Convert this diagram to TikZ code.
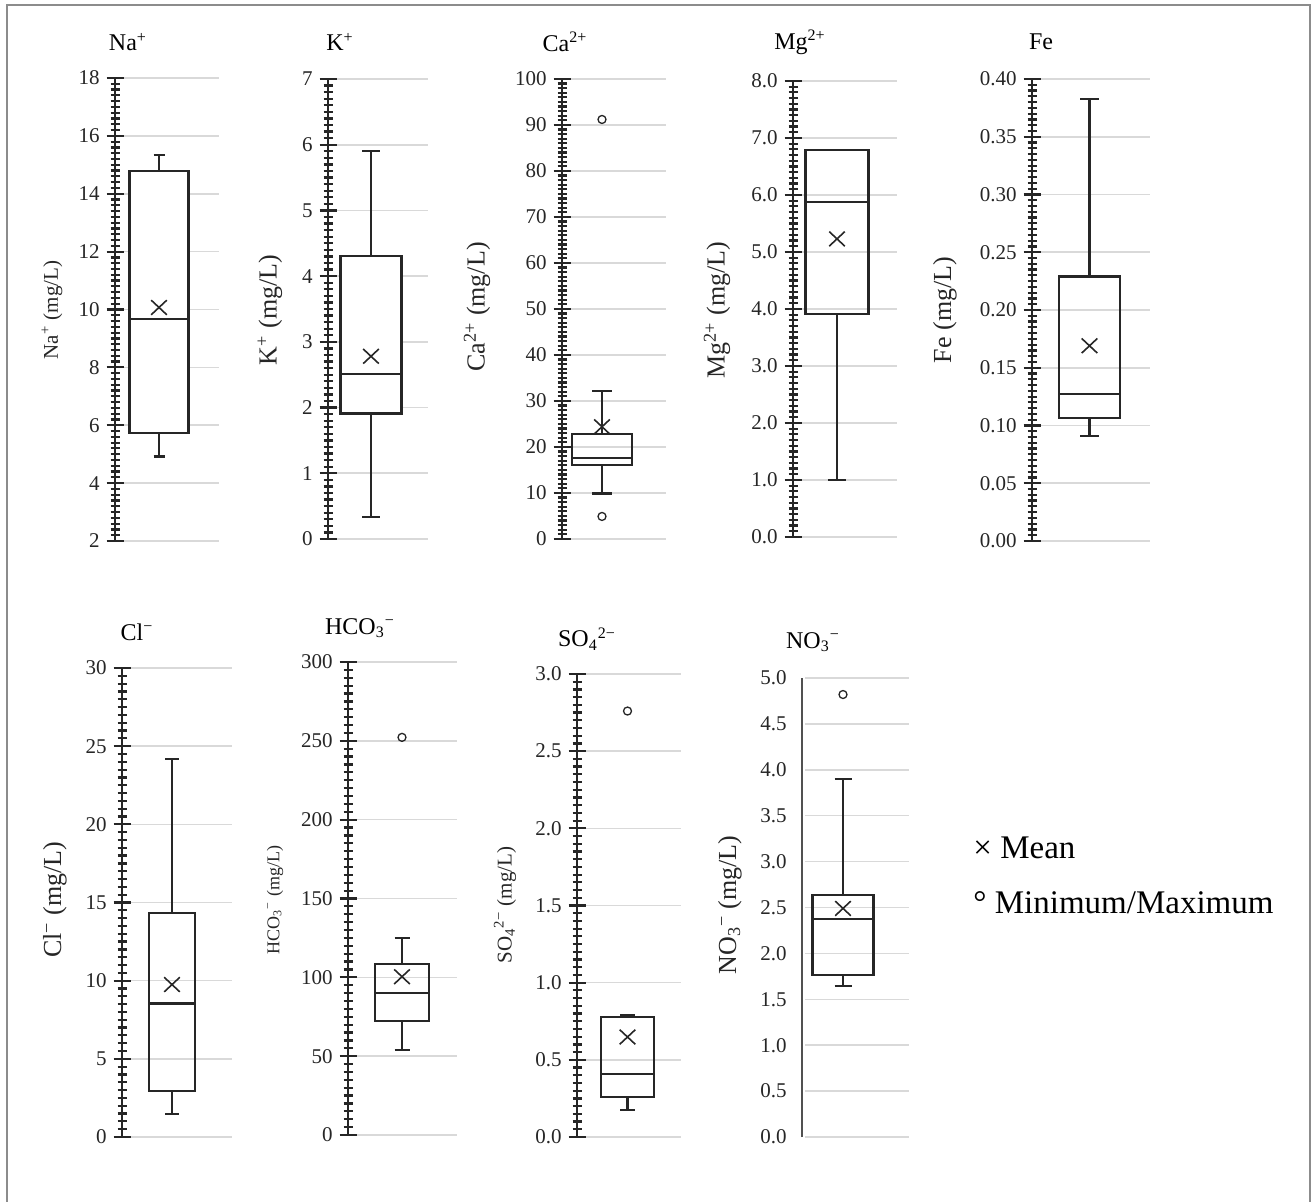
\documentclass[tikz,border=0pt]{standalone}
\usepackage{fontspec}
\setmainfont{Liberation Serif}
\usetikzlibrary{shapes.misc}

\definecolor{gridgray}{HTML}{D9D9D9}
\definecolor{framegray}{HTML}{8C8C8C}
\definecolor{inkgray}{HTML}{262626}

% one panel: name, axis x, pixel y of lowest and highest value, lowest and highest value
\newcommand{\setaxis}[6]{\def\pname{#1}\def\axx{#2}\def\ybot{#3}\def\ytop{#4}\def\vlow{#5}%
  \pgfmathsetmacro\ppu{(#3-#4)/(#6-#5)}}
\newcommand{\yv}[1]{(\ybot-((#1)-\vlow)*\ppu)}

% ticked axis: minor intervals, tick labels, end of the grid lines
\newcommand{\tickaxis}[3]{%
  \pgfmathsetmacro\tgap{(\ybot-\ytop)/#1}
  \foreach \lab [count=\k from 0] in {#2} {
    \draw[gridline] ({\axx+7},{\ybot-\k*10*\tgap}) -- (#3,{\ybot-\k*10*\tgap});
    \draw[axisline] ({\axx-8.5},{\ybot-\k*10*\tgap}) -- ({\axx+8.5},{\ybot-\k*10*\tgap});
    \node[ticklab] (\pname-\k) at ({\axx-15},{\ybot-\k*10*\tgap}) {\lab};
  }
  \foreach \i in {0,...,#1}
    \draw[axisline] ({\axx-4.5},{\ybot-\i*\tgap}) -- ({\axx+4.5},{\ybot-\i*\tgap});
  \draw[axisline] (\axx,\ybot) -- (\axx,\ytop);
}

% box: centre x, half width, half cap, min, q1, median, q3, max
\newcommand{\ionbox}[8]{%
  \draw[boxline] (#1,{\yv{#7}}) -- (#1,{\yv{#8}});
  \draw[boxline] (#1,{\yv{#5}}) -- (#1,{\yv{#4}});
  \draw[boxline] ({#1-#3},{\yv{#8}}) -- ({#1+#3},{\yv{#8}});
  \draw[boxline] ({#1-#3},{\yv{#4}}) -- ({#1+#3},{\yv{#4}});
  \draw[boxline, fill=\boxfill] ({#1-#2},{\yv{#5}}) rectangle ({#1+#2},{\yv{#7}});
  \draw[boxline] ({#1-#2},{\yv{#6}}) -- ({#1+#2},{\yv{#6}});
}

\begin{document}
\begin{tikzpicture}[x=0.5pt, y=-0.5pt]
\tikzset{
  gridline/.style={gridgray, line width=0.8pt},
  axisline/.style={inkgray, line width=1.1pt},
  boxline/.style={inkgray, line width=1.05pt},
  ticklab/.style={anchor=east, inner sep=0pt, text=inkgray, font=\fontsize{10.5}{12}\selectfont},
  title/.style={inner sep=0pt, font=\fontsize{12}{14}\selectfont},
  ylab/.style={rotate=90, inner sep=0pt, text=inkgray, font=\fontsize{13}{15}\selectfont},
  smallylab/.style={ylab, font=\fontsize{10}{12}\selectfont},
  meanmark/.style={cross out, draw=inkgray, line width=0.8pt, minimum width=7pt, minimum height=6.5pt, inner sep=0pt},
  outlier/.style={circle, draw=inkgray, line width=0.65pt, minimum size=4pt, inner sep=0pt},
  legend/.style={anchor=west, inner sep=0pt, font=\fontsize{16.5}{19}\selectfont},
}
\useasboundingbox (0,0) rectangle (1312,1202);
\draw[framegray, line width=0.8pt] (7,1210) -- (7,5) -- (1310,5) -- (1310,1210);

% Na+
\def\boxfill{white}
\setaxis{Na}{115}{541}{78}{2}{18}
\tickaxis{80}{2,4,6,8,10,12,14,16,18}{219}
\ionbox{159}{29.5}{5.5}{4.92}{5.72}{9.68}{14.8}{15.34}
\node[meanmark] (Na-mean) at (159,{\yv{10.07}}) {};
\node[title] (tNa) at (128,42) {Na\textsuperscript{+}};
\node[smallylab, font=\fontsize{10.5}{12}\selectfont] (yNa) at (52,310) {Na\textsuperscript{+} (mg/L)};

% K+
\setaxis{K}{328}{539}{79}{0}{7}
\tickaxis{70}{0,1,2,3,4,5,6,7}{428}
\ionbox{371}{30.5}{9}{0.34}{1.91}{2.51}{4.31}{5.9}
\node[meanmark] (K-mean) at (371,{\yv{2.78}}) {};
\node[title] (tK) at (340,42) {K\textsuperscript{+}};
\node[ylab] (yK) at (270,310) {K\textsuperscript{+} (mg/L)};

% Ca2+
\def\boxfill{none}
\setaxis{Ca}{562}{539}{79}{0}{100}
\tickaxis{100}{0,10,20,30,40,50,60,70,80,90,100}{666}
\ionbox{602}{30}{10}{9.9}{16.1}{17.6}{22.8}{32.2}
\node[meanmark] (Ca-mean) at (602,{\yv{24.4}}) {};
\node[outlier] (Ca-max) at (602,{\yv{91.2}}) {};
\node[outlier] (Ca-min) at (602,{\yv{4.9}}) {};
\node[title] (tCa) at (565,42) {Ca\textsuperscript{2+}};
\node[ylab] (yCa) at (477,307) {Ca\textsuperscript{2+} (mg/L)};

% Mg2+
\setaxis{Mg}{793}{537}{81}{0}{8}
\tickaxis{80}{0.0,1.0,2.0,3.0,4.0,5.0,6.0,7.0,8.0}{897}
\ionbox{837}{31.5}{9}{1.0}{3.91}{5.87}{6.79}{6.79}
\node[meanmark] (Mg-mean) at (837,{\yv{5.23}}) {};
\node[title] (tMg) at (800,42) {Mg\textsuperscript{2+}};
\node[ylab] (yMg) at (717,310) {Mg\textsuperscript{2+} (mg/L)};

% Fe
\setaxis{Fe}{1032}{541}{79}{0}{0.4}
\tickaxis{80}{0.00,0.05,0.10,0.15,0.20,0.25,0.30,0.35,0.40}{1150}
\ionbox{1089.5}{30.5}{9.5}{0.091}{0.1065}{0.127}{0.229}{0.383}
\node[meanmark] (Fe-mean) at (1089.5,{\yv{0.169}}) {};
\node[title] (tFe) at (1041,42) {Fe};
\node[ylab] (yFe) at (945,310) {Fe (mg/L)};

% Cl-
\setaxis{Cl}{122}{1137}{668}{0}{30}
\tickaxis{60}{0,5,10,15,20,25,30}{232}
\ionbox{172}{23}{7}{1.5}{2.95}{8.54}{14.3}{24.16}
\node[meanmark] (Cl-mean) at (172,{\yv{9.75}}) {};
\node[title] (tCl) at (137,632) {Cl\textsuperscript{−}};
\node[ylab] (yCl) at (55,900) {Cl\textsuperscript{−} (mg/L)};

% HCO3-
\setaxis{HCO}{348}{1135}{662}{0}{300}
\tickaxis{60}{0,50,100,150,200,250,300}{457}
\ionbox{402}{27}{7.5}{53.9}{72.3}{90.2}{108.2}{125.1}
\node[meanmark] (HCO-mean) at (402,{\yv{100.4}}) {};
\node[outlier] (HCO-max) at (402,{\yv{252.2}}) {};
\node[title] (tHCO) at (360,628) {HCO\textsubscript{3}\textsuperscript{−}};
\node[smallylab, font=\fontsize{9}{11}\selectfont] (yHCO) at (275,900) {HCO\textsubscript{3}\textsuperscript{−} (mg/L)};

% SO4 2-
\setaxis{SO}{577}{1137}{674}{0}{3}
\tickaxis{60}{0.0,0.5,1.0,1.5,2.0,2.5,3.0}{681}
\ionbox{627.5}{26.5}{7.5}{0.173}{0.259}{0.411}{0.778}{0.789}
\node[meanmark] (SO-mean) at (627.5,{\yv{0.648}}) {};
\node[outlier] (SO-max) at (627.5,{\yv{2.76}}) {};
\node[title] (tSO) at (587,639) {SO\textsubscript{4}\textsuperscript{2−}};
\node[smallylab, font=\fontsize{10.5}{12}\selectfont] (ySO) at (505,905) {SO\textsubscript{4}\textsuperscript{2−} (mg/L)};

% NO3- (plain axis, no ticks)
\setaxis{NO}{802}{1137}{678}{0}{5}
\foreach \lab [count=\k from 0] in {0.0,0.5,1.0,1.5,2.0,2.5,3.0,3.5,4.0,4.5,5.0} {
  \draw[gridline] ({\axx+3},{\yv{\k*0.5}}) -- (909,{\yv{\k*0.5}});
  \node[ticklab] (NO-\k) at ({\axx-15},{\yv{\k*0.5}}) {\lab};
}
\draw[inkgray!80, line width=1.2pt] (\axx,\ybot) -- (\axx,\ytop);
\ionbox{843}{30.5}{8.5}{1.643}{1.763}{2.37}{2.636}{3.90}
\node[meanmark] (NO-mean) at (843,{\yv{2.49}}) {};
\node[outlier] (NO-max) at (843,{\yv{4.82}}) {};
\node[title] (tNO) at (813,642) {NO\textsubscript{3}\textsuperscript{−}};
\node[ylab] (yNO) at (730,905) {NO\textsubscript{3}\textsuperscript{−} (mg/L)};

% legend
\node[legend] (lgMean) at (973,848) {× Mean};
\node[legend] (lgMinMax) at (973,903) {° Minimum/Maximum};
\end{tikzpicture}
\end{document}
